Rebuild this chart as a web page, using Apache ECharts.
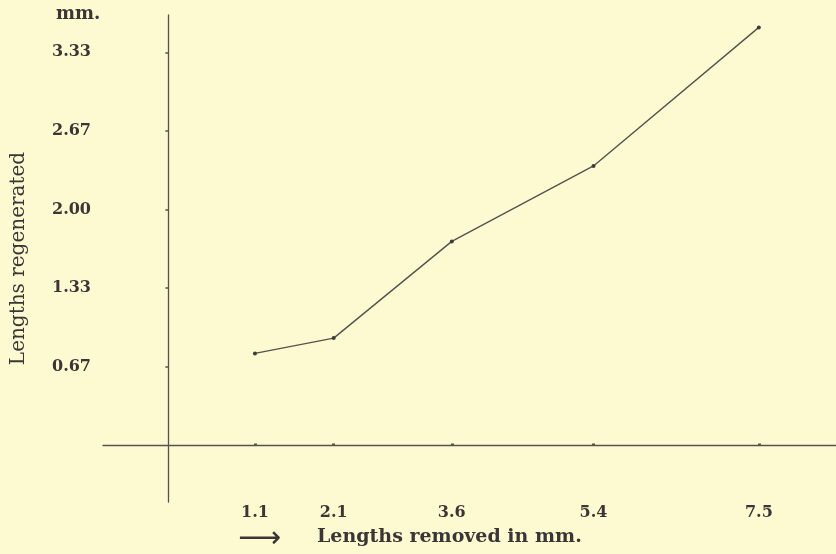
<!DOCTYPE html>
<html>
<head>
<meta charset="utf-8">
<script src="https://cdn.jsdelivr.net/npm/echarts@6/dist/echarts.min.js"></script>
<style>
  html, body { margin: 0; padding: 0; background: #fdfad2; }
  #chart { width: 836px; height: 554px; }
</style>
</head>
<body>
<div id="chart"></div>
<script>
// Data
const removed = [1.1, 2.1, 3.6, 5.4, 7.5];          // x: lengths removed (mm)
const regenerated = [0.78, 0.91, 1.73, 2.37, 3.545]; // y: lengths regenerated (mm)
const xTickLabels = ['1.1', '2.1', '3.6', '5.4', '7.5'];
const yTickValues = [2/3, 4/3, 2, 8/3, 10/3];
const yTickLabels = ['0.67', '1.33', '2.00', '2.67', '3.33'];

const ink = '#3b3636';
const lineInk = '#57524f';
const font = 'DejaVu Serif';

const chart = echarts.init(document.getElementById('chart'));
chart.setOption({
  backgroundColor: '#fdfad2',
  animation: false,
  grid: { left: 103, right: 0, top: 15, bottom: 52, containLabel: false, outerBoundsMode: 'none' },
  xAxis: {
    type: 'value',
    min: -0.83, max: 8.48,
    axisLine: { onZero: true, lineStyle: { color: lineInk, width: 1.3 } },
    axisTick: { show: true, customValues: removed, length: 2, inside: true, lineStyle: { color: lineInk, width: 3 } },
    axisLabel: {
      customValues: removed,
      formatter: v => xTickLabels[removed.indexOf(v)] ?? '',
      margin: 3, color: ink, fontFamily: font, fontWeight: 'bold', fontSize: 16
    },
    splitLine: { show: false }
  },
  yAxis: {
    type: 'value',
    min: -0.48, max: 3.65,
    axisLine: { show: true, onZero: true, lineStyle: { color: lineInk, width: 1.3 } },
    axisTick: { show: true, customValues: yTickValues, length: 3, lineStyle: { color: lineInk, width: 1.5 } },
    axisLabel: {
      customValues: yTickValues,
      formatter: v => {
        const i = yTickValues.findIndex(t => Math.abs(t - v) < 1e-6);
        return i >= 0 ? yTickLabels[i] : '';
      },
      margin: 12, color: ink, fontFamily: font, fontWeight: 'bold', fontSize: 16
    },
    splitLine: { show: false },
    name: 'Lengths regenerated',
    nameLocation: 'middle',
    nameGap: 74,
    nameRotate: 90,
    nameTextStyle: { color: ink, fontFamily: font, fontSize: 20 }
  },
  graphic: [
    { type: 'text', left: 56, top: 5, style: { text: 'mm.', fill: ink, font: 'bold 18px "DejaVu Serif"' } },
    { type: 'text', left: 238, top: 524, style: { text: '\u27F6', fill: ink, font: '30px "DejaVu Sans"' } },
    { type: 'text', left: 317, top: 528, style: { text: 'Lengths removed in mm.', fill: ink, font: 'bold 19px "DejaVu Serif"' } }
  ],
  series: [{
    type: 'line',
    data: removed.map((x, i) => [x, regenerated[i]]),
    symbol: 'circle',
    symbolSize: 4,
    itemStyle: { color: '#3f3a39' },
    lineStyle: { color: lineInk, width: 1.4 }
  }]
});
</script>
</body>
</html>
